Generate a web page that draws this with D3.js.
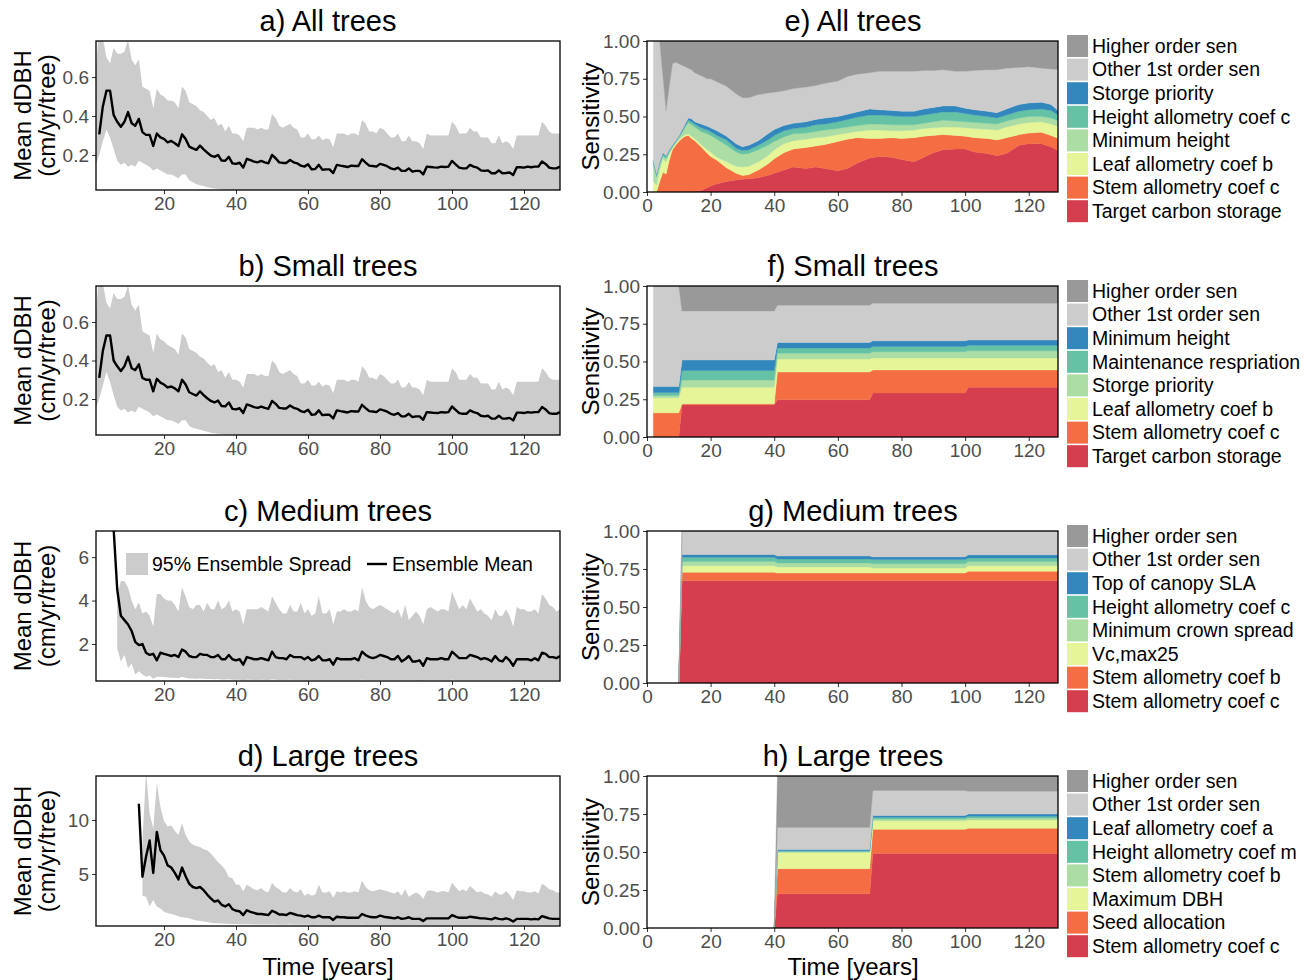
<!DOCTYPE html>
<html>
<head>
<meta charset="utf-8">
<script src="https://d3js.org/d3.v7.min.js"></script>
<style>
  body { margin: 0; background: #fff; }
</style>
</head>
<body>
<svg id="chart" width="1309" height="980"></svg>
<script>
// ---------- left column: mean dDBH with 95% ensemble spread ----------
// a) All trees  (mean from year 2, band from year 1)
const meanA = [0.306,0.449,0.53,0.53,0.405,0.37,0.345,0.37,0.42,
  0.363,0.35,0.385,0.317,0.303,0.303,0.246,0.31,0.29,0.282,
  0.265,0.272,0.26,0.246,0.306,0.282,0.243,0.234,0.226,0.248,
  0.229,0.212,0.197,0.19,0.2,0.171,0.17,0.19,0.157,0.154,
  0.16,0.135,0.18,0.173,0.166,0.162,0.169,0.162,0.157,0.2,
  0.183,0.162,0.159,0.159,0.174,0.162,0.157,0.145,0.14,0.152,
  0.126,0.128,0.149,0.124,0.126,0.126,0.107,0.149,0.145,0.142,
  0.138,0.145,0.143,0.143,0.178,0.161,0.145,0.143,0.14,0.154,
  0.149,0.142,0.131,0.126,0.135,0.118,0.118,0.131,0.114,0.118,
  0.118,0.1,0.14,0.138,0.136,0.135,0.14,0.138,0.14,0.169,
  0.152,0.135,0.131,0.131,0.149,0.14,0.135,0.121,0.118,0.121,
  0.106,0.106,0.121,0.106,0.107,0.11,0.097,0.137,0.137,0.135,
  0.14,0.137,0.14,0.14,0.166,0.154,0.135,0.131,0.131,0.14];
const upperA = [0.62,0.86,0.80,0.70,0.67,0.75,0.72,0.72,0.73,0.79,
  0.69,0.66,0.69,0.55,0.54,0.53,0.44,0.54,0.51,0.50,
  0.48,0.48,0.47,0.44,0.55,0.53,0.47,0.46,0.45,0.43,
  0.42,0.40,0.38,0.39,0.35,0.36,0.32,0.35,0.31,0.31,
  0.30,0.27,0.34,0.34,0.34,0.33,0.34,0.33,0.33,0.41,
  0.39,0.35,0.34,0.35,0.36,0.34,0.33,0.29,0.29,0.31,
  0.28,0.28,0.30,0.275,0.285,0.28,0.24,0.31,0.31,0.31,
  0.30,0.31,0.31,0.30,0.38,0.36,0.32,0.32,0.31,0.34,
  0.33,0.31,0.29,0.29,0.31,0.27,0.27,0.30,0.27,0.27,
  0.26,0.23,0.31,0.30,0.30,0.30,0.30,0.30,0.30,0.37,
  0.35,0.31,0.31,0.31,0.34,0.32,0.32,0.29,0.29,0.29,
  0.26,0.26,0.30,0.26,0.27,0.26,0.23,0.30,0.30,0.30,
  0.30,0.30,0.30,0.30,0.37,0.35,0.32,0.31,0.31,0.31];
const lowerA = [0.15,0.20,0.27,0.33,0.29,0.23,0.17,0.15,0.16,0.14,
  0.15,0.14,0.17,0.16,0.15,0.14,0.12,0.13,0.12,0.11,
  0.10,0.10,0.09,0.08,0.10,0.10,0.07,0.06,0.05,0.045,
  0.04,0.035,0.03,0.028,0.025,0.022,0.021,0.02,0.019,0.018,
  0.017,0.016,0.016,0.015,0.016,0.015,0.015,0.014,0.015,0.016,
  0.015,0.015,0.014,0.015,0.015,0.014,0.014,0.013,0.013,0.014,
  0.013,0.013,0.014,0.013,0.013,0.012,0.012,0.013,0.013,0.013,
  0.013,0.013,0.013,0.012,0.014,0.013,0.013,0.013,0.012,0.013,
  0.013,0.012,0.012,0.012,0.012,0.011,0.011,0.012,0.011,0.011,
  0.011,0.01,0.012,0.012,0.012,0.012,0.012,0.012,0.012,0.013,
  0.012,0.012,0.012,0.012,0.012,0.012,0.011,0.011,0.011,0.011,
  0.01,0.01,0.011,0.01,0.01,0.01,0.009,0.011,0.011,0.011,
  0.011,0.011,0.011,0.011,0.012,0.012,0.011,0.011,0.011,0.011];

// b) Small trees
const meanB = [0.31,0.45,0.53,0.53,0.40,0.37,0.345,0.37,0.42,
  0.36,0.35,0.38,0.31,0.30,0.30,0.24,0.305,0.285,0.275,
  0.26,0.265,0.255,0.24,0.30,0.275,0.235,0.226,0.218,0.24,
  0.22,0.204,0.19,0.182,0.192,0.163,0.162,0.182,0.149,0.146,
  0.152,0.127,0.172,0.165,0.158,0.154,0.161,0.154,0.149,0.19,
  0.175,0.154,0.151,0.151,0.166,0.154,0.149,0.137,0.132,0.144,
  0.118,0.12,0.141,0.116,0.118,0.118,0.099,0.141,0.137,0.134,
  0.13,0.137,0.135,0.135,0.17,0.153,0.137,0.135,0.132,0.146,
  0.141,0.134,0.123,0.118,0.127,0.11,0.11,0.123,0.106,0.11,
  0.11,0.092,0.132,0.13,0.128,0.127,0.132,0.13,0.132,0.161,
  0.144,0.127,0.123,0.123,0.141,0.132,0.127,0.113,0.11,0.113,
  0.098,0.098,0.113,0.098,0.099,0.102,0.089,0.129,0.129,0.127,
  0.132,0.129,0.132,0.132,0.158,0.146,0.127,0.123,0.123,0.132];
const upperB = [0.62,0.86,0.80,0.70,0.67,0.75,0.72,0.72,0.73,0.79,
  0.69,0.66,0.69,0.55,0.54,0.53,0.44,0.54,0.51,0.50,
  0.48,0.47,0.46,0.43,0.54,0.52,0.46,0.45,0.44,0.42,
  0.41,0.39,0.37,0.38,0.34,0.35,0.31,0.34,0.30,0.30,
  0.29,0.26,0.33,0.33,0.33,0.32,0.33,0.32,0.32,0.40,
  0.38,0.34,0.33,0.34,0.35,0.33,0.32,0.28,0.28,0.30,
  0.27,0.27,0.29,0.265,0.275,0.27,0.23,0.30,0.30,0.30,
  0.29,0.30,0.30,0.29,0.37,0.35,0.31,0.31,0.30,0.33,
  0.32,0.30,0.28,0.28,0.30,0.26,0.26,0.29,0.26,0.26,
  0.25,0.22,0.30,0.29,0.29,0.29,0.29,0.29,0.29,0.36,
  0.34,0.30,0.30,0.30,0.33,0.31,0.31,0.28,0.28,0.28,
  0.25,0.25,0.29,0.25,0.26,0.25,0.22,0.29,0.29,0.29,
  0.29,0.29,0.29,0.29,0.36,0.34,0.31,0.30,0.30,0.30];
const lowerB = [0.15,0.20,0.27,0.34,0.29,0.22,0.16,0.14,0.15,0.13,
  0.14,0.13,0.16,0.15,0.14,0.13,0.11,0.12,0.11,0.10,
  0.09,0.09,0.08,0.07,0.09,0.09,0.06,0.05,0.045,0.04,
  0.035,0.03,0.025,0.022,0.02,0.018,0.016,0.015,0.014,0.013,
  0.012,0.011,0.011,0.01,0.011,0.01,0.01,0.01,0.01,0.011,
  0.01,0.01,0.01,0.01,0.01,0.01,0.009,0.009,0.009,0.009,
  0.009,0.009,0.009,0.009,0.009,0.008,0.008,0.009,0.009,0.009,
  0.009,0.009,0.009,0.008,0.01,0.009,0.009,0.009,0.008,0.009,
  0.009,0.008,0.008,0.008,0.008,0.008,0.008,0.008,0.008,0.008,
  0.008,0.007,0.008,0.008,0.008,0.008,0.008,0.008,0.008,0.009,
  0.008,0.008,0.008,0.008,0.008,0.008,0.008,0.008,0.008,0.008,
  0.007,0.007,0.008,0.007,0.007,0.007,0.007,0.008,0.008,0.008,
  0.008,0.008,0.008,0.008,0.009,0.009,0.008,0.008,0.008,0.008];

// c) Medium trees (mean from year 6, band from year 7)
const meanC = [7.3,4.5,3.3,3.1,2.9,
  2.6,2.1,1.95,2.0,1.6,1.5,1.55,1.25,1.6,1.55,
  1.5,1.45,1.5,1.4,1.75,1.65,1.45,1.4,1.4,1.55,
  1.5,1.5,1.4,1.4,1.5,1.3,1.3,1.5,1.3,1.25,
  1.3,1.05,1.4,1.35,1.3,1.3,1.35,1.3,1.25,1.65,
  1.4,1.35,1.35,1.3,1.5,1.4,1.4,1.4,1.3,1.4,
  1.25,1.3,1.45,1.25,1.25,1.3,1.05,1.35,1.3,1.3,
  1.3,1.3,1.35,1.25,1.65,1.5,1.4,1.35,1.4,1.5,
  1.45,1.4,1.3,1.3,1.45,1.2,1.3,1.45,1.2,1.2,
  1.25,1.0,1.35,1.3,1.3,1.3,1.35,1.3,1.3,1.65,
  1.5,1.35,1.35,1.35,1.5,1.45,1.4,1.3,1.35,1.3,
  1.2,1.45,1.25,1.2,1.4,1.25,1.0,1.3,1.3,1.3,
  1.3,1.25,1.35,1.25,1.6,1.55,1.4,1.4,1.35,1.45];
const upperC = [4.2,4.9,4.9,4.6,
  4.0,3.6,3.9,3.4,3.5,3.3,2.8,4.3,4.3,4.1,
  4.0,4.0,3.8,3.5,4.6,4.2,3.7,3.6,3.8,3.8,
  3.5,3.9,3.6,3.6,4.0,3.6,3.7,4.0,3.5,3.6,
  3.5,2.9,3.6,3.6,3.6,3.6,3.7,3.6,3.5,4.2,
  3.9,3.6,3.4,3.4,3.8,3.5,3.5,3.9,3.4,3.6,
  3.3,3.4,4.2,3.4,3.4,3.6,2.9,3.5,3.5,3.6,
  3.5,3.5,3.6,3.5,4.6,4.0,3.7,3.6,3.7,3.8,
  3.7,3.6,3.5,3.4,3.6,3.2,3.8,3.1,3.3,3.5,
  3.3,2.9,3.6,3.7,3.6,3.5,3.6,3.6,3.5,4.4,
  4.0,3.6,3.8,3.6,4.1,3.8,3.5,3.6,3.4,3.3,
  3.1,3.6,3.3,3.3,3.6,3.3,2.8,3.7,3.6,3.6,
  3.5,3.5,3.6,3.4,4.3,4.1,3.8,3.7,3.5,3.6];
const lowerC = [1.8,1.2,1.5,0.9,
  1.1,0.6,0.75,0.6,0.5,0.55,0.4,0.5,0.5,0.48,
  0.46,0.45,0.45,0.43,0.48,0.45,0.42,0.42,0.4,0.42,
  0.4,0.39,0.39,0.38,0.39,0.37,0.37,0.38,0.36,0.36,
  0.36,0.34,0.36,0.36,0.35,0.35,0.36,0.35,0.35,0.37,
  0.36,0.35,0.35,0.35,0.36,0.35,0.35,0.35,0.34,0.35,
  0.34,0.34,0.35,0.34,0.34,0.34,0.33,0.35,0.34,0.34,
  0.34,0.34,0.35,0.34,0.36,0.35,0.35,0.34,0.35,0.35,
  0.35,0.34,0.34,0.34,0.35,0.33,0.34,0.35,0.33,0.33,
  0.34,0.32,0.34,0.34,0.34,0.34,0.34,0.34,0.34,0.36,
  0.35,0.34,0.34,0.34,0.35,0.35,0.34,0.34,0.34,0.34,
  0.33,0.35,0.33,0.33,0.34,0.33,0.32,0.34,0.34,0.34,
  0.34,0.33,0.34,0.33,0.35,0.35,0.34,0.34,0.34,0.34];

// d) Large trees (mean from year 13, band from year 14)
const meanD = [11.5,4.75,6.6,8.1,5.1,8.9,7.2,6.7,
  5.8,5.6,5.1,4.5,5.6,4.8,4.1,3.8,3.7,3.8,
  3.5,3.1,2.75,2.45,2.55,2.15,2.0,2.2,1.75,1.6,
  1.55,1.2,1.65,1.5,1.4,1.3,1.3,1.25,1.2,1.6,
  1.45,1.25,1.25,1.2,1.4,1.3,1.2,1.15,1.05,1.15,
  1.0,1.0,1.15,1.0,1.0,1.0,0.75,1.05,1.0,1.0,
  0.95,0.95,0.95,0.95,1.3,1.15,1.05,1.0,1.0,1.15,
  1.05,1.0,0.95,0.9,1.0,0.85,0.9,1.0,0.85,0.85,
  0.85,0.65,0.9,0.9,0.9,0.9,0.9,0.9,0.9,1.2,
  1.05,0.95,0.95,0.95,1.05,1.0,0.95,0.9,0.9,0.85,
  0.8,0.95,0.85,0.8,0.9,0.8,0.6,0.85,0.85,0.85,
  0.85,0.8,0.85,0.8,1.1,1.0,0.9,0.85,0.85,0.85];
const upperD = [8.0,14.5,10.6,9.2,13.4,11.2,9.9,
  9.4,9.5,9.0,8.6,9.7,8.6,8.0,7.7,7.6,7.5,
  7.3,7.2,6.9,6.5,6.1,5.8,5.4,4.7,4.6,4.0,
  4.0,3.4,4.0,3.8,3.6,3.5,3.7,3.4,3.3,4.2,
  3.8,3.6,3.3,3.3,3.7,3.4,3.3,3.6,3.0,3.2,
  3.0,3.1,4.0,3.3,3.3,3.4,2.8,3.4,3.3,3.4,
  3.3,3.3,3.4,3.3,4.4,3.8,3.5,3.4,3.5,3.6,
  3.5,3.4,3.3,3.2,3.4,3.0,3.6,2.9,3.1,3.3,
  3.1,2.7,3.4,3.5,3.4,3.3,3.4,3.4,3.3,4.2,
  3.8,3.4,3.6,3.4,3.9,3.6,3.3,3.4,3.2,3.1,
  2.9,3.4,3.1,3.1,3.4,3.1,2.6,3.5,3.4,3.4,
  3.3,3.3,3.4,3.2,4.1,3.9,3.6,3.5,3.3,3.3];
const lowerD = [3.0,2.9,2.0,2.6,2.0,1.8,1.5,
  1.4,1.3,1.2,1.1,1.0,0.95,0.9,0.8,0.7,0.65,
  0.6,0.55,0.5,0.45,0.45,0.42,0.4,0.4,0.38,0.37,
  0.36,0.35,0.36,0.35,0.34,0.34,0.33,0.33,0.32,0.33,
  0.32,0.31,0.31,0.31,0.32,0.31,0.31,0.3,0.3,0.3,
  0.29,0.29,0.3,0.29,0.29,0.29,0.28,0.29,0.29,0.29,
  0.28,0.28,0.28,0.28,0.3,0.29,0.28,0.28,0.28,0.29,
  0.28,0.28,0.27,0.27,0.28,0.27,0.27,0.28,0.27,0.27,
  0.27,0.26,0.27,0.27,0.27,0.27,0.27,0.27,0.27,0.28,
  0.27,0.27,0.27,0.27,0.27,0.27,0.26,0.26,0.26,0.26,
  0.25,0.26,0.25,0.25,0.26,0.25,0.24,0.26,0.25,0.25,
  0.25,0.25,0.25,0.25,0.26,0.26,0.25,0.25,0.25,0.25];

// ---------- right column: sensitivity shares (bottom layer first) ----------
const eYears = [2,3,4,5,6,7,8,9,10,11,12,13,14,15,17,19,20,22,25,28,30,32,35,38,40,43,46,50,53,56,60,63,66,70,73,77,80,84,87,90,93,97,100,103,107,110,113,117,120,124,127,130];
const eTargetCarbon = [0,0,0,0,0,0,0,0,0,0,0,0,0,0.005,0.01,0.03,0.04,0.055,0.07,0.08,0.085,0.088,0.095,0.11,0.125,0.145,0.165,0.155,0.165,0.155,0.14,0.155,0.19,0.225,0.235,0.23,0.215,0.20,0.23,0.26,0.28,0.285,0.285,0.265,0.255,0.24,0.255,0.31,0.32,0.32,0.30,0.265];
const eStemC = [0,0,0.07,0.13,0.12,0.21,0.28,0.31,0.335,0.355,0.37,0.375,0.355,0.335,0.29,0.225,0.195,0.155,0.09,0.045,0.025,0.027,0.05,0.075,0.095,0.115,0.12,0.14,0.14,0.16,0.195,0.195,0.17,0.13,0.12,0.13,0.14,0.16,0.14,0.115,0.10,0.09,0.085,0.095,0.10,0.105,0.105,0.07,0.07,0.075,0.075,0.085];
const eLeafB = [0.07,0.045,0.08,0.09,0.08,0.04,0.01,0.01,0.01,0.01,0.01,0.01,0.015,0.015,0.015,0.025,0.03,0.02,0.04,0.045,0.055,0.055,0.055,0.055,0.06,0.06,0.055,0.055,0.055,0.05,0.045,0.04,0.04,0.055,0.055,0.045,0.05,0.05,0.05,0.05,0.05,0.055,0.055,0.06,0.06,0.065,0.07,0.07,0.07,0.07,0.075,0.08];
const eMinHeight = [0.11,0.055,0.03,0.02,0.02,0.015,0.01,0.01,0.015,0.025,0.05,0.075,0.075,0.075,0.085,0.105,0.11,0.12,0.11,0.095,0.085,0.085,0.08,0.07,0.055,0.045,0.045,0.04,0.04,0.045,0.04,0.04,0.04,0.04,0.04,0.04,0.04,0.035,0.035,0.04,0.045,0.04,0.04,0.04,0.04,0.04,0.04,0.04,0.04,0.035,0.04,0.035];
const eHeightC = [0.025,0.015,0.015,0.01,0.015,0.01,0.005,0.005,0.005,0.01,0.01,0.015,0.02,0.02,0.025,0.025,0.025,0.025,0.035,0.025,0.025,0.025,0.03,0.035,0.04,0.04,0.035,0.04,0.045,0.04,0.045,0.05,0.055,0.06,0.06,0.06,0.055,0.055,0.055,0.055,0.055,0.06,0.055,0.05,0.045,0.04,0.04,0.045,0.045,0.05,0.05,0.035];
const eStorage = [0.005,0.005,0.005,0.01,0.005,0.005,0.005,0.005,0.005,0.01,0.01,0.015,0.02,0.015,0.025,0.025,0.025,0.03,0.025,0.03,0.025,0.03,0.03,0.04,0.039,0.035,0.035,0.035,0.035,0.04,0.035,0.035,0.035,0.04,0.035,0.035,0.035,0.035,0.04,0.04,0.04,0.04,0.035,0.035,0.035,0.035,0.04,0.045,0.045,0.045,0.04,0.025];
const eOther = [0.79,0.88,0.80,0.51,0.30,0.42,0.54,0.52,0.48,0.43,0.38,0.33,0.325,0.325,0.32,0.315,0.325,0.325,0.33,0.33,0.325,0.315,0.305,0.27,0.246,0.23,0.23,0.23,0.225,0.23,0.235,0.25,0.25,0.24,0.255,0.26,0.265,0.265,0.255,0.245,0.24,0.23,0.245,0.26,0.275,0.285,0.27,0.245,0.24,0.225,0.235,0.285];
const eHigher = [0,0,0,0.23,0.46,0.30,0.15,0.14,0.15,0.16,0.17,0.18,0.19,0.21,0.23,0.25,0.25,0.27,0.30,0.35,0.375,0.375,0.355,0.345,0.34,0.33,0.315,0.305,0.295,0.28,0.265,0.235,0.22,0.21,0.20,0.20,0.20,0.20,0.195,0.195,0.19,0.20,0.20,0.195,0.19,0.19,0.18,0.175,0.17,0.18,0.185,0.19];
const eLabels = ["Target carbon storage","Stem allometry coef c","Leaf allometry coef b","Minimum height","Height allometry coef c","Storge priority","Other 1st order sen","Higher order sen"];

const fYears = [2,10,11,40,41,70,71,100,101,130];
const fTargetCarbon = [0,0,0.213,0.213,0.246,0.246,0.292,0.292,0.33,0.33];
const fStemC = [0.16,0.16,0.007,0.007,0.184,0.184,0.152,0.152,0.114,0.114];
const fLeafB = [0.10,0.10,0.11,0.11,0.086,0.086,0.079,0.079,0.079,0.079];
const fStorage = [0.015,0.015,0.048,0.048,0.038,0.038,0.042,0.042,0.048,0.048];
const fMaintResp = [0.02,0.02,0.062,0.062,0.036,0.036,0.035,0.035,0.036,0.036];
const fMinHeight = [0.04,0.04,0.07,0.07,0.036,0.036,0.037,0.037,0.035,0.035];
const fOther = [0.665,0.665,0.325,0.325,0.247,0.247,0.249,0.249,0.244,0.244];
const fHigher = [0,0,0.165,0.165,0.127,0.127,0.114,0.114,0.114,0.114];
const fLabels = ["Target carbon storage","Stem allometry coef c","Leaf allometry coef b","Storge priority","Maintenance respriation","Minimum height","Other 1st order sen","Higher order sen"];

const gYears = [10,11,40,41,70,71,100,101,130];
const gStemC = [0,0.673,0.673,0.673,0.673,0.673,0.673,0.673,0.673];
const gStemB = [0,0.055,0.055,0.05,0.05,0.05,0.05,0.062,0.062];
const gVcmax = [0,0.044,0.044,0.04,0.04,0.034,0.034,0.037,0.037];
const gMinCrown = [0,0.028,0.028,0.027,0.027,0.028,0.028,0.027,0.027];
const gHeightC = [0,0.027,0.027,0.026,0.026,0.027,0.027,0.024,0.024];
const gSLA = [0,0.018,0.018,0.02,0.02,0.018,0.018,0.02,0.02];
const gOther = [0,0.155,0.155,0.164,0.164,0.17,0.17,0.157,0.157];
const gHigher = [0,0,0,0,0,0,0,0,0];
const gLabels = ["Stem allometry coef c","Stem allometry coef b","Vc,max25","Minimum crown spread","Height allometry coef c","Top of canopy SLA","Other 1st order sen","Higher order sen"];

const hYears = [40,41,70,71,100,101,130];
const hStemC = [0,0.225,0.225,0.49,0.49,0.49,0.49];
const hSeedAlloc = [0,0.165,0.165,0.159,0.159,0.166,0.166];
const hMaxDBH = [0,0.107,0.107,0.057,0.057,0.055,0.055];
const hStemB = [0,0.006,0.006,0.011,0.011,0.013,0.013];
const hHeightM = [0,0.005,0.005,0.011,0.011,0.011,0.011];
const hLeafA = [0,0.009,0.009,0.012,0.012,0.015,0.015];
const hOther = [0,0.145,0.145,0.165,0.165,0.15,0.15];
const hHigher = [0,0.338,0.338,0.095,0.095,0.10,0.10];
const hLabels = ["Stem allometry coef c","Seed allocation","Maximum DBH","Stem allometry coef b","Height allometry coef m","Leaf allometry coef a","Other 1st order sen","Higher order sen"];

// bottom to top
const layerColors = ["#d53e4f","#f46d43","#e6f598","#abdda4","#66c2a5","#3288bd","#cccccc","#999999"];

const FONT = "'Liberation Sans', Arial, Helvetica, sans-serif";
const svg = d3.select("#chart");

function styleAxis(g) {
  g.attr("font-size", 19).attr("font-family", FONT);
  g.select(".domain").remove();
  g.selectAll(".tick line").attr("stroke", "#333");
  g.selectAll(".tick text").attr("fill", "#4d4d4d");
}

function title(text, cx, top) {
  svg.append("text").attr("x", cx).attr("y", top - 10)
    .attr("text-anchor", "middle").attr("font-family", FONT).attr("font-size", 29)
    .text(text);
}

function drawLinePanel(p) {
  let x = d3.scaleLinear().domain([1.1, 130]).range([96, 560]);
  let y = d3.scaleLinear().domain(p.yDomain).range([p.bottom, p.top]);
  let g = svg.append("g");
  g.append("clipPath").attr("id", "clip-" + p.id).append("rect")
    .attr("x", 96).attr("y", p.top).attr("width", 464).attr("height", p.bottom - p.top);
  let plot = g.append("g").attr("clip-path", `url(#clip-${p.id})`);

  let band = p.lower.map((lo, i) => ({yr: p.bandStart + i, lo: lo, hi: p.upper[i]}));
  plot.append("path").datum(band)
    .attr("fill", "#cccccc")
    .attr("d", d3.area().x(d => x(d.yr)).y0(d => y(d.lo)).y1(d => y(d.hi)));

  let mean = p.mean.map((v, i) => ({yr: p.meanStart + i, v: v}));
  plot.append("path").datum(mean)
    .attr("fill", "none").attr("stroke", "#000").attr("stroke-width", 2.4)
    .attr("stroke-linejoin", "round")
    .attr("d", d3.line().x(d => x(d.yr)).y(d => y(d.v)));

  g.append("g").attr("transform", `translate(0,${p.bottom})`)
    .call(d3.axisBottom(x).tickValues([20, 40, 60, 80, 100, 120]).tickSize(4).tickPadding(3))
    .call(styleAxis);
  g.append("g").attr("transform", "translate(96,0)")
    .call(d3.axisLeft(y).tickValues(p.yTicks).tickSize(4).tickPadding(3).tickFormat(d3.format(p.fmt)))
    .call(styleAxis);

  g.append("rect").attr("x", 96).attr("y", p.top).attr("width", 464).attr("height", p.bottom - p.top)
    .attr("fill", "none").attr("stroke", "#000").attr("stroke-width", 1.3);

  title(p.title, 328, p.top);

  let cy = (p.top + p.bottom) / 2;
  g.append("text").attr("transform", `translate(31,${cy}) rotate(-90)`)
    .attr("text-anchor", "middle").attr("font-family", FONT).attr("font-size", 24)
    .text("Mean dDBH");
  g.append("text").attr("transform", `translate(55,${cy}) rotate(-90)`)
    .attr("text-anchor", "middle").attr("font-family", FONT).attr("font-size", 24)
    .text("(cm/yr/tree)");
}

function drawStackPanel(p) {
  let x = d3.scaleLinear().domain([0, 129.2]).range([647, 1058]);
  let y = d3.scaleLinear().domain([0, 1]).range([p.bottom, p.top]);
  let keys = d3.range(p.series.length);
  let rows = p.years.map((yr, i) => {
    let r = {yr: yr};
    keys.forEach(k => r[k] = p.series[k][i]);
    return r;
  });
  let stacked = d3.stack().keys(keys)(rows);

  let g = svg.append("g");
  g.append("clipPath").attr("id", "clip-" + p.id).append("rect")
    .attr("x", 647).attr("y", p.top).attr("width", 411).attr("height", p.bottom - p.top);
  g.append("g").attr("clip-path", `url(#clip-${p.id})`)
    .selectAll("path").data(stacked).join("path")
    .attr("fill", (d, i) => layerColors[i])
    .attr("stroke", (d, i) => layerColors[i]).attr("stroke-width", 0.4)
    .attr("d", d3.area().x(d => x(d.data.yr)).y0(d => y(d[0])).y1(d => y(d[1])));

  g.append("g").attr("transform", `translate(0,${p.bottom})`)
    .call(d3.axisBottom(x).tickValues([0, 20, 40, 60, 80, 100, 120]).tickSize(4).tickPadding(3))
    .call(styleAxis);
  g.append("g").attr("transform", "translate(647,0)")
    .call(d3.axisLeft(y).tickValues([0, 0.25, 0.5, 0.75, 1]).tickSize(4).tickPadding(3).tickFormat(d3.format(".2f")))
    .call(styleAxis);

  g.append("rect").attr("x", 647).attr("y", p.top).attr("width", 411).attr("height", p.bottom - p.top)
    .attr("fill", "none").attr("stroke", "#000").attr("stroke-width", 1.3);

  title(p.title, 853, p.top);

  g.append("text").attr("transform", `translate(599,${(p.top + p.bottom) / 2}) rotate(-90)`)
    .attr("text-anchor", "middle").attr("font-family", FONT).attr("font-size", 24)
    .text("Sensitivity");

  // legend, top entry = top layer
  let items = p.labels.map((l, i) => ({label: l, color: layerColors[i]})).reverse();
  let lg = g.append("g").attr("transform", `translate(1067,${p.top - 6})`);
  items.forEach((it, i) => {
    lg.append("rect").attr("x", 0).attr("y", i * 23.6).attr("width", 21).attr("height", 22)
      .attr("fill", it.color);
    lg.append("text").attr("x", 25).attr("y", i * 23.6 + 11).attr("dy", "0.35em")
      .attr("font-family", FONT).attr("font-size", 19.5).text(it.label);
  });
}

drawLinePanel({id: "a", title: "a) All trees", top: 41, bottom: 190, yDomain: [0.02, 0.785],
  yTicks: [0.2, 0.4, 0.6], fmt: ".1f", mean: meanA, meanStart: 2, upper: upperA, lower: lowerA, bandStart: 1});
drawLinePanel({id: "b", title: "b) Small trees", top: 286, bottom: 435, yDomain: [0.013, 0.787],
  yTicks: [0.2, 0.4, 0.6], fmt: ".1f", mean: meanB, meanStart: 2, upper: upperB, lower: lowerB, bandStart: 1});
drawLinePanel({id: "c", title: "c) Medium trees", top: 531, bottom: 681, yDomain: [0.3, 7.2],
  yTicks: [2, 4, 6], fmt: "d", mean: meanC, meanStart: 6, upper: upperC, lower: lowerC, bandStart: 7});
drawLinePanel({id: "d", title: "d) Large trees", top: 776, bottom: 926, yDomain: [0.19, 14.07],
  yTicks: [5, 10], fmt: "d", mean: meanD, meanStart: 13, upper: upperD, lower: lowerD, bandStart: 14});

// legend inside panel c
svg.append("rect").attr("x", 126).attr("y", 553).attr("width", 22).attr("height", 22).attr("fill", "#cccccc");
svg.append("text").attr("x", 152).attr("y", 564).attr("dy", "0.35em")
  .attr("font-family", FONT).attr("font-size", 19.5).text("95% Ensemble Spread");
svg.append("line").attr("x1", 367).attr("x2", 387).attr("y1", 564).attr("y2", 564)
  .attr("stroke", "#000").attr("stroke-width", 2.4);
svg.append("text").attr("x", 392).attr("y", 564).attr("dy", "0.35em")
  .attr("font-family", FONT).attr("font-size", 19.5).text("Ensemble Mean");

drawStackPanel({id: "e", title: "e) All trees", top: 41, bottom: 192, years: eYears,
  series: [eTargetCarbon, eStemC, eLeafB, eMinHeight, eHeightC, eStorage, eOther, eHigher], labels: eLabels});
drawStackPanel({id: "f", title: "f) Small trees", top: 286, bottom: 437, years: fYears,
  series: [fTargetCarbon, fStemC, fLeafB, fStorage, fMaintResp, fMinHeight, fOther, fHigher], labels: fLabels});
drawStackPanel({id: "g", title: "g) Medium trees", top: 531, bottom: 683, years: gYears,
  series: [gStemC, gStemB, gVcmax, gMinCrown, gHeightC, gSLA, gOther, gHigher], labels: gLabels});
drawStackPanel({id: "h", title: "h) Large trees", top: 776, bottom: 928, years: hYears,
  series: [hStemC, hSeedAlloc, hMaxDBH, hStemB, hHeightM, hLeafA, hOther, hHigher], labels: hLabels});

// x axis titles
[328, 853].forEach(cx => {
  svg.append("text").attr("x", cx).attr("y", 975).attr("text-anchor", "middle")
    .attr("font-family", FONT).attr("font-size", 24).text("Time [years]");
});
</script>
</body>
</html>
